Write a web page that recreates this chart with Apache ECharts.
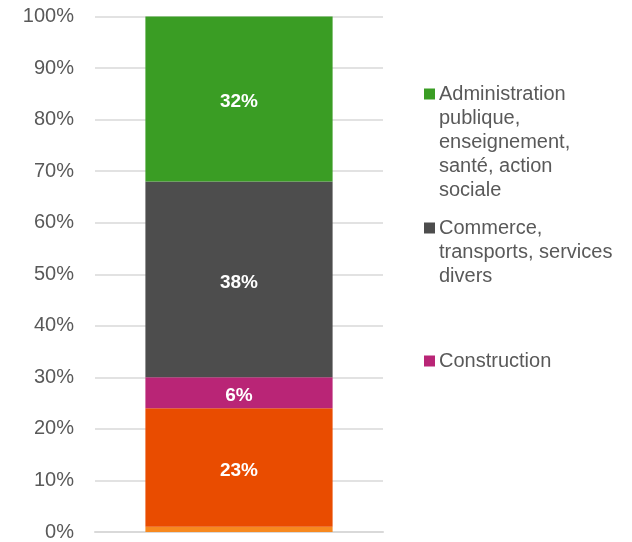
<!DOCTYPE html>
<html>
<head>
<meta charset="utf-8">
<script src="https://cdn.jsdelivr.net/npm/echarts@6/dist/echarts.min.js"></script>
<style>
  html, body { margin: 0; padding: 0; background: #fff; }
  #chart { width: 632px; height: 542px; }
</style>
</head>
<body>
<div id="chart"></div>
<script>
// données
var categories = ['Emploi'];
var seriesNames = ['Agriculture', 'Industrie', 'Construction',
  'Commerce, transports, services divers',
  'Administration publique, enseignement, santé, action sociale'];
var seriesValues = [1, 23, 6, 38, 32];
var seriesColors = ['#F7891F', '#E94C00', '#B92576', '#4D4D4D', '#3A9D24'];
var showLabel = [false, true, true, true, true];

// légende (seulement 3 entrées, texte sur plusieurs lignes)
var legendNames = [seriesNames[4], seriesNames[3], seriesNames[2]];
var legendLines = [
  ['Administration', 'publique,', 'enseignement,', 'santé, action', 'sociale'],
  ['Commerce,', 'transports, services', 'divers'],
  ['Construction']
];
var legendColors = [seriesColors[4], seriesColors[3], seriesColors[2]];
var legendTops = [84, 218, 351];

var series = seriesNames.map(function (name, i) {
  return {
    name: name,
    type: 'bar',
    stack: 'total',
    barWidth: '65%',
    itemStyle: { color: seriesColors[i] },
    label: {
      show: showLabel[i],
      position: 'inside',
      offset: [0, 3],
      color: '#fff',
      fontWeight: 'bold',
      fontSize: 19,
      fontFamily: 'Liberation Sans, Arial, sans-serif',
      formatter: '{c}%'
    },
    emphasis: { disabled: true },
    data: [seriesValues[i]]
  };
});

var legends = legendNames.map(function (name, k) {
  return {
    data: [name],
    left: 419,
    top: legendTops[k],
    padding: 0,
    itemWidth: 0,
    itemHeight: 0,
    selectedMode: false,
    formatter: function () {
      return legendLines[k].map(function (line, j) {
        return (j === 0 ? '{sq|}' : '{sp|}') + '{t|' + line + '}';
      }).join('\n');
    },
    textStyle: {
      rich: {
        sq: { width: 11, height: 11, backgroundColor: legendColors[k] },
        sp: { width: 11, height: 11 },
        t: {
          fontSize: 20,
          lineHeight: 24,
          color: '#595959',
          fontFamily: 'Liberation Sans, Arial, sans-serif',
          padding: [0, 0, 0, 4]
        }
      }
    }
  };
});

var chart = echarts.init(document.getElementById('chart'));
chart.setOption({
  animation: false,
  grid: { left: 95, right: 249, top: 16.5, bottom: 8.5 },
  legend: legends,
  xAxis: {
    type: 'category',
    data: categories,
    axisTick: { show: false },
    axisLabel: { show: false },
    axisLine: { show: true, lineStyle: { color: '#D9D9D9', width: 2 } }
  },
  yAxis: {
    type: 'value',
    min: 0,
    max: 100,
    interval: 10,
    axisLine: { show: false },
    axisTick: { show: false },
    splitLine: { lineStyle: { color: '#D9D9D9', width: 1.5 } },
    axisLabel: {
      formatter: '{value}%',
      color: '#595959',
      fontSize: 20,
      fontFamily: 'Liberation Sans, Arial, sans-serif',
      padding: [3, 0, 0, 0],
      margin: 21
    }
  },
  series: series
});
</script>
</body>
</html>
